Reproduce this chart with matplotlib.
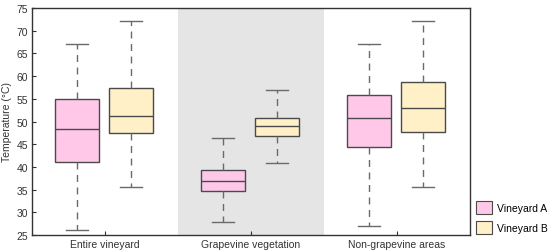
import matplotlib
matplotlib.use("Agg")
import matplotlib.pyplot as plt
from matplotlib.patches import Patch

plt.rcParams["font.family"] = ["Liberation Sans", "DejaVu Sans"]

# ---- data ----
groups = ["Entire vineyard", "Grapevine vegetation", "Non-grapevine areas"]
series = ["Vineyard A", "Vineyard B"]
# whislo, q1, median, q3, whishi
vineyard_a = [
    [26.1, 41.1, 48.4, 55.0, 67.1],
    [27.9, 34.6, 36.8, 39.3, 46.4],
    [26.9, 44.4, 50.7, 55.8, 67.1],
]
vineyard_b = [
    [35.5, 47.4, 51.2, 57.3, 72.2],
    [40.8, 46.8, 48.9, 50.8, 56.9],
    [35.6, 47.7, 52.9, 58.6, 72.2],
]

COLORS = ["#ffc8e8", "#fff0c8"]
EDGE = "#4a4a4a"
WHISK = "#6a6a6a"

fig = plt.figure(figsize=(5.5, 2.53), dpi=100)
ax = fig.add_axes([32 / 550, 17 / 253, 438 / 550, 227 / 253])

ax.axvspan(0.5, 1.5, color="#e5e5e5", zorder=0, lw=0)

offsets = [-0.19, 0.18]
for data, col, off in zip([vineyard_a, vineyard_b], COLORS, offsets):
    stats = []
    for lo, q1, med, q3, hi in data:
        stats.append(dict(whislo=lo, q1=q1, med=med, q3=q3, whishi=hi, fliers=[]))
    ax.bxp(stats, positions=[i + off for i in range(len(groups))], widths=0.30,
           patch_artist=True, showfliers=False,
           boxprops=dict(facecolor=col, edgecolor=EDGE, linewidth=1.0),
           medianprops=dict(color=EDGE, linewidth=1.0),
           whiskerprops=dict(color=WHISK, linewidth=1.0, linestyle=(0, (5, 4))),
           capprops=dict(color=WHISK, linewidth=1.0),
           capwidths=0.15, manage_ticks=False, zorder=2)

ax.set_xlim(-0.5, 2.5)
ax.set_ylim(25, 75)
ax.set_xticks(range(len(groups)))
ax.set_xticklabels(groups, fontsize=7.5)
ax.set_yticks(range(25, 76, 5))
ax.tick_params(axis="both", direction="in", labelsize=7.5, length=3,
               colors="#333333", pad=3)
ax.set_ylabel("Temperature (°C)", fontsize=7.5, labelpad=3, color="#333333")
for sp in ax.spines.values():
    sp.set_color("#333333")
    sp.set_linewidth(1.0)

handles = [Patch(facecolor=c, edgecolor=EDGE, linewidth=0.8) for c in COLORS]
fig.legend(handles, series, loc="lower left", bbox_to_anchor=(472 / 550, 14 / 253),
           frameon=False, fontsize=7.5, handlelength=1.5, handleheight=1.5,
           handletextpad=0.5, labelspacing=0.7, borderaxespad=0)

fig.savefig("out.png", dpi=100)
